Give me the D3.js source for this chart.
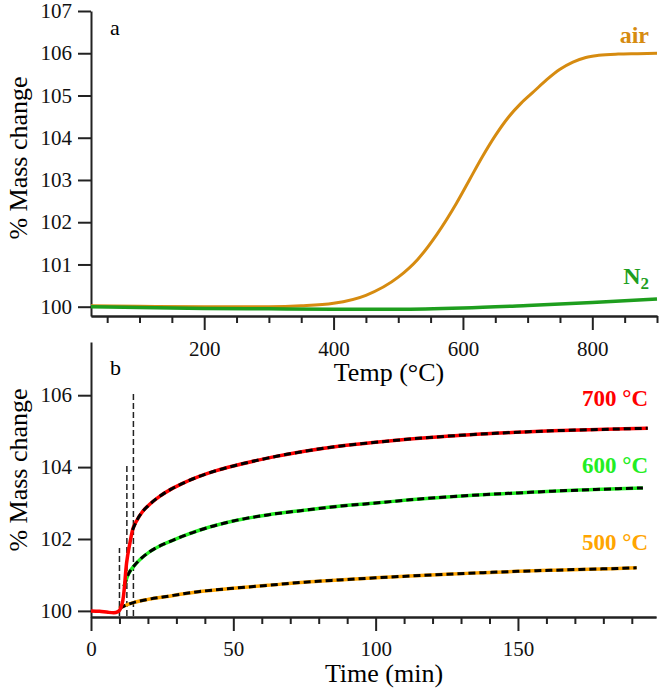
<!DOCTYPE html>
<html>
<head>
<meta charset="utf-8">
<script src="https://cdn.jsdelivr.net/npm/d3@7"></script>
<style>
  body { margin: 0; background: #fff; }
  svg { font-family: "Liberation Serif", "Times New Roman", serif; }
  .axis path, .axis line { stroke: #222; stroke-width: 2; }
  .axis text { font-size: 21px; fill: #111; }
</style>
</head>
<body>
<div id="chart"></div>
<script>
// TGA data, panel a: mass vs temperature
const airTemp = [25, 100, 200, 300, 350, 400, 450, 500, 530, 560, 590, 610, 630, 650, 670, 690, 710, 730, 750, 770, 790, 810, 840, 870, 900];
const airMass = [100.02, 100.01, 100.0, 100.0, 100.02, 100.08, 100.27, 100.7, 101.12, 101.72, 102.45, 103.0, 103.55, 104.05, 104.48, 104.82, 105.1, 105.38, 105.62, 105.79, 105.9, 105.95, 105.98, 105.99, 106.0];
const n2Temp = [25, 100, 200, 300, 400, 500, 600, 700, 800, 900];
const n2Mass = [100.0, 99.98, 99.96, 99.95, 99.94, 99.94, 99.97, 100.03, 100.1, 100.18];

// panel b: isothermal runs, mass vs time
const t700 = [0, 3, 6, 8, 9.5, 10.3, 11.4, 12.5, 13.7, 14.6, 16, 18, 20, 24, 28, 32, 38, 44, 50, 62, 75, 87, 100, 112, 125, 137, 150, 162, 175, 185, 195.6];
const m700 = [100.0, 99.99, 99.96, 99.95, 99.98, 100.05, 100.4, 101.33, 101.9, 102.25, 102.5, 102.75, 102.92, 103.18, 103.38, 103.54, 103.74, 103.9, 104.03, 104.25, 104.44, 104.58, 104.69, 104.78, 104.86, 104.92, 104.97, 105.01, 105.04, 105.06, 105.08];
const t600 = [11.6, 13, 14.9, 17.5, 20.7, 24.5, 28.9, 33, 38.3, 50, 62, 75, 87, 100, 112, 125, 137, 150, 162, 175, 185, 193.9];
const m600 = [100.68, 101.0, 101.23, 101.45, 101.65, 101.82, 101.97, 102.1, 102.25, 102.5, 102.67, 102.8, 102.91, 103.0, 103.09, 103.17, 103.23, 103.28, 103.33, 103.37, 103.4, 103.42];
const t500 = [9.9, 12, 14.9, 20, 26.6, 32, 38.3, 50, 62, 75, 87, 100, 112, 125, 137, 150, 162, 175, 185, 191.7];
const m500 = [100.07, 100.15, 100.23, 100.32, 100.4, 100.47, 100.54, 100.63, 100.71, 100.8, 100.86, 100.92, 100.97, 101.02, 101.06, 101.1, 101.13, 101.16, 101.18, 101.2];
const fitStart700 = 14.6;

// vertical markers (time, top of line)
const markerTime = [10, 12.6, 14.9];
const markerTop = [101.75, 104.05, 106.05];

const width = 661, height = 688;
const serif = "'Liberation Serif', 'Times New Roman', serif";

const svg = d3.select("#chart").append("svg")
  .attr("width", width).attr("height", height)
  .attr("font-family", serif);

const zip = (xs, ys) => xs.map((x, i) => [x, ys[i]]);

// d3 axes put font-family="sans-serif" on their group, so reset it after the call
function drawAxis(axis, transform) {
  svg.append("g").attr("class", "axis")
    .attr("transform", transform)
    .call(axis)
    .attr("font-family", serif)
    .attr("font-size", 21);
}

// ---------- panel a ----------
const xA = d3.scaleLinear().domain([25, 900]).range([91, 657]);
const yA = d3.scaleLinear().domain([99.78, 107]).range([316, 11]);

drawAxis(d3.axisLeft(yA).tickValues(d3.range(100, 108)).tickFormat(d3.format("d")).tickSize(13).tickSizeOuter(0).tickPadding(6), "translate(91,0)");
drawAxis(d3.axisBottom(xA).tickValues(d3.range(50, 901, 50).filter(d => d % 200 != 0)).tickSize(7).tickSizeOuter(0).tickFormat(""), "translate(0,316)");
drawAxis(d3.axisBottom(xA).tickValues([200, 400, 600, 800]).tickSize(14).tickSizeOuter(0).tickPadding(11), "translate(0,316)");

const lineA = d3.line().x(d => xA(d[0])).y(d => yA(d[1])).curve(d3.curveMonotoneX);

svg.append("path").datum(zip(airTemp, airMass))
  .attr("d", lineA).attr("fill", "none").attr("stroke", "#d68b10").attr("stroke-width", 3);
svg.append("path").datum(zip(n2Temp, n2Mass))
  .attr("d", lineA).attr("fill", "none").attr("stroke", "#1e9e1e").attr("stroke-width", 3.5);

svg.append("text").attr("x", 110).attr("y", 35).attr("font-size", 22).text("a");
svg.append("text").attr("x", 649).attr("y", 43).attr("text-anchor", "end")
  .attr("font-size", 24).attr("font-weight", "bold").attr("fill", "#d68b10").text("air");
const n2 = svg.append("text").attr("x", 649).attr("y", 284).attr("text-anchor", "end")
  .attr("font-size", 24).attr("font-weight", "bold").attr("fill", "#1e9e1e");
n2.append("tspan").text("N");
n2.append("tspan").attr("font-size", 17).attr("dy", 5).text("2");

svg.append("text").attr("x", 389).attr("y", 381).attr("text-anchor", "middle")
  .attr("font-size", 26).text("Temp (°C)");
svg.append("text").attr("transform", "translate(27,158) rotate(-90)").attr("text-anchor", "middle")
  .attr("font-size", 26).text("% Mass change");

// ---------- panel b ----------
const xB = d3.scaleLinear().domain([0, 198.5]).range([91, 656]);
const yB = d3.scaleLinear().domain([99.83, 107.48]).range([617, 342]);

drawAxis(d3.axisLeft(yB).tickValues([100, 102, 104, 106]).tickFormat(d3.format("d")).tickSize(13).tickSizeOuter(0).tickPadding(6), "translate(91,0)");
drawAxis(d3.axisBottom(xB).tickValues(d3.range(10, 191, 10).filter(d => d % 50 != 0)).tickSize(7).tickSizeOuter(0).tickFormat(""), "translate(0,617)");
drawAxis(d3.axisBottom(xB).tickValues([0, 50, 100, 150]).tickSize(14).tickSizeOuter(0).tickPadding(10), "translate(0,617)");

const lineB = d3.line().x(d => xB(d[0])).y(d => yB(d[1])).curve(d3.curveMonotoneX);

// vertical dashed markers
svg.append("g").selectAll("line").data(markerTime).join("line")
  .attr("x1", d => xB(d)).attr("x2", d => xB(d))
  .attr("y1", yB(99.86)).attr("y2", (d, i) => yB(markerTop[i]))
  .attr("stroke", "#222").attr("stroke-width", 1.5).attr("stroke-dasharray", "6,3");

const runs = [
  { t: t500, m: m500, color: "#ffa500", fit: t500[0] },
  { t: t600, m: m600, color: "#22ee22", fit: t600[0] },
  { t: t700, m: m700, color: "#ff0000", fit: fitStart700 }
];

runs.forEach(r => {
  const pts = zip(r.t, r.m);
  svg.append("path").datum(pts)
    .attr("d", lineB).attr("fill", "none").attr("stroke", r.color).attr("stroke-width", 3.5);
  svg.append("path").datum(pts.filter(p => p[0] >= r.fit))
    .attr("d", lineB).attr("fill", "none").attr("stroke", "#000").attr("stroke-width", 3)
    .attr("stroke-dasharray", "7,4");
});

svg.append("text").attr("x", 110).attr("y", 375).attr("font-size", 22).text("b");
const labelsB = [
  { text: "700 °C", color: "#ff0000", y: 406 },
  { text: "600 °C", color: "#22ee22", y: 473 },
  { text: "500 °C", color: "#ffa500", y: 550 }
];
svg.append("g").selectAll("text").data(labelsB).join("text")
  .attr("x", 648).attr("y", d => d.y).attr("text-anchor", "end")
  .attr("font-size", 23).attr("font-weight", "bold").attr("fill", d => d.color)
  .text(d => d.text);

svg.append("text").attr("x", 384).attr("y", 682).attr("text-anchor", "middle")
  .attr("font-size", 26).text("Time (min)");
svg.append("text").attr("transform", "translate(27,470) rotate(-90)").attr("text-anchor", "middle")
  .attr("font-size", 26).text("% Mass change");
</script>
</body>
</html>
